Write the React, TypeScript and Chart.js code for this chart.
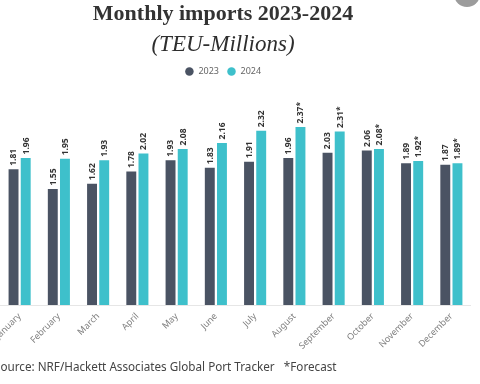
import React, { useEffect, useRef } from "react";
import { Chart, registerables } from "chart.js";

Chart.register(...registerables);

const months = ["January", "February", "March", "April", "May", "June", "July", "August", "September", "October", "November", "December"];
const values2023 = [1.81, 1.55, 1.62, 1.78, 1.93, 1.83, 1.91, 1.96, 2.03, 2.06, 1.89, 1.87];
const values2024 = [1.96, 1.95, 1.93, 2.02, 2.08, 2.16, 2.32, 2.37, 2.31, 2.08, 1.92, 1.89];
const labels2023 = ["1.81", "1.55", "1.62", "1.78", "1.93", "1.83", "1.91", "1.96", "2.03", "2.06", "1.89", "1.87"];
const labels2024 = ["1.96", "1.95", "1.93", "2.02", "2.08", "2.16", "2.32", "2.37*", "2.31*", "2.08*", "1.92*", "1.89*"];
const seriesNames = ["2023", "2024"];

const DARK = "#4a5363";
const TEAL = "#3ec0cb";

const valueLabelPlugin = {
  id: "valueLabels",
  afterDatasetsDraw(chart: any) {
    const { ctx } = chart;
    const texts = [labels2023, labels2024];
    chart.data.datasets.forEach((_ds: any, di: number) => {
      const meta = chart.getDatasetMeta(di);
      meta.data.forEach((bar: any, i: number) => {
        ctx.save();
        ctx.translate(bar.x, bar.y - 2.5);
        ctx.rotate(-Math.PI / 2);
        ctx.font = "bold 8.5px 'Noto Sans'";
        ctx.fillStyle = "#333333";
        ctx.textAlign = "left";
        ctx.textBaseline = "middle";
        ctx.fillText(texts[di][i], 0, 0.5);
        ctx.restore();
      });
    });
  },
};

export default function App() {
  const ref = useRef<HTMLCanvasElement | null>(null);

  useEffect(() => {
    if (!ref.current) return;
    const chart = new Chart(ref.current, {
      type: "bar",
      data: {
        labels: months,
        datasets: [
          {
            label: seriesNames[0],
            data: values2023,
            backgroundColor: DARK,
            borderColor: "rgba(255,255,255,0.5)",
            borderWidth: 1,
            categoryPercentage: 0.62,
            barPercentage: 0.98,
          },
          {
            label: seriesNames[1],
            data: values2024,
            backgroundColor: TEAL,
            borderColor: "rgba(255,255,255,0.5)",
            borderWidth: 1,
            categoryPercentage: 0.62,
            barPercentage: 0.98,
          },
        ],
      },
      options: {
        animation: false,
        responsive: false,
        maintainAspectRatio: false,
        layout: { padding: 0 },
        plugins: {
          title: {
            display: true,
            text: "Monthly imports 2023-2024",
            color: "#333333",
            font: { family: "'Liberation Serif'", size: 22, weight: "bold" },
            padding: { top: 1, bottom: 0 },
          },
          subtitle: {
            display: true,
            text: "(TEU-Millions)",
            color: "#2e2e2e",
            font: { family: "'Liberation Serif'", size: 23, style: "italic" },
            padding: { top: 4, bottom: 0 },
          },
          legend: {
            display: true,
            labels: {
              usePointStyle: true,
              pointStyle: "circle",
              boxWidth: 9,
              boxHeight: 6,
              padding: 8,
              color: "#666666",
              font: { family: "'Noto Sans'", size: 9 },
              generateLabels: (chart: any) =>
                chart.data.datasets.map((ds: any, i: number) => ({
                  text: ds.label,
                  fillStyle: ds.backgroundColor,
                  strokeStyle: ds.backgroundColor,
                  lineWidth: 0,
                  pointStyle: "circle",
                  hidden: false,
                  datasetIndex: i,
                  fontColor: "#666666",
                })),
            },
          },
          tooltip: { enabled: false },
        },
        scales: {
          x: {
            grid: { display: false },
            border: { display: true, color: "#e6e6e6", width: 1 },
            ticks: {
              color: "#808080",
              font: { family: "'Noto Sans'", size: 9 },
              maxRotation: 45,
              minRotation: 45,
              padding: -2,
            },
            afterFit: (scale: any) => {
              scale.paddingLeft = 25;
              scale.paddingRight = 0;
              scale.height = 79;
            },
          },
          y: {
            display: false,
            min: 0,
            max: 2.9,
          },
        },
      },
      plugins: [valueLabelPlugin],
    });
    return () => chart.destroy();
  }, []);

  return (
    <div style={{ position: "absolute", left: 0, top: 0, width: 480, height: 384, overflow: "hidden", background: "#ffffff" }}>
      <canvas ref={ref} width={496} height={384} style={{ position: "absolute", left: -25, top: 0, width: 496, height: 384 }} />
      <div
        style={{
          position: "absolute",
          left: -6,
          top: 358,
          whiteSpace: "pre",
          fontFamily: "'Noto Sans', sans-serif",
          fontSize: 11.7,
          lineHeight: "16px",
          color: "#444444",
        }}
      >
        {"Source: NRF/Hackett Associates Global Port Tracker   *Forecast"}
      </div>
      <div
        style={{
          position: "absolute",
          left: 454,
          top: -19,
          width: 26,
          height: 26,
          borderRadius: "50%",
          background: "#9c9c9c",
        }}
      />
    </div>
  );
}
